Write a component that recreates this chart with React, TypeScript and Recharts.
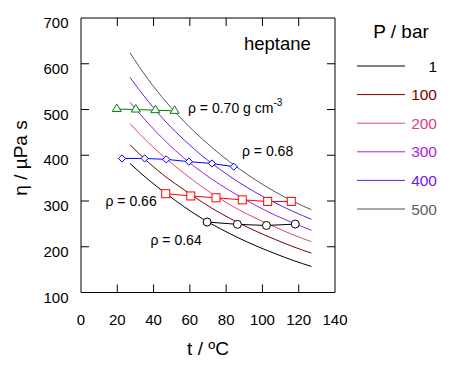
import React from 'react';
import { ComposedChart, Line, XAxis, YAxis } from 'recharts';

const FONT = '"Liberation Sans", Arial, Helvetica, sans-serif';

// Pressure isobars: temperature (°C) and viscosity (µPa s)
const temps = [27, 37, 47, 57, 67, 77, 87, 97, 107, 117, 127];
const eta1 = [382, 347, 316, 287, 261, 239, 219, 201, 185, 170, 157];
const eta100 = [423, 385, 352, 324, 297, 273, 252, 233, 216, 200, 186];
const eta200 = [469, 428, 392, 360, 330, 304, 281, 261, 243, 226, 211];
const eta300 = [516, 470, 429, 393, 362, 335, 311, 289, 269, 252, 236];
const eta400 = [570, 518, 472, 433, 398, 368, 341, 317, 296, 277, 260];
const eta500 = [624, 566, 516, 473, 435, 401, 371, 344, 320, 299, 281];

const pressureLabels = ['1', '100', '200', '300', '400', '500'];
const pressureKeys = ['p1', 'p100', 'p200', 'p300', 'p400', 'p500'];
const pressureSeries = [eta1, eta100, eta200, eta300, eta400, eta500];
const pressureColors = ['#000000', '#7a0000', '#e0457f', '#a020e0', '#6a1ee8', '#555555'];
const pressureLabelColors = ['#000000', '#800000', '#e0407f', '#a81ed8', '#7018e0', '#606060'];

// Iso-density series
const rho70T = [19.7, 30.2, 41.0, 51.6];
const rho70Eta = [501, 500, 498.5, 497];
const rho68T = [22.6, 35.1, 47.0, 59.5, 72.2, 84.2];
const rho68Eta = [393, 393, 391, 386, 382, 375];
const rho66T = [46.7, 60.5, 74.4, 88.9, 102.9, 115.9];
const rho66Eta = [316, 311, 307, 302.5, 299, 299];
const rho64T = [69.5, 86.2, 102.2, 118.1];
const rho64Eta = [254, 249, 246.5, 249.5];

const xTicks = [0, 20, 40, 60, 80, 100, 120, 140];
const yTicks = [100, 200, 300, 400, 500, 600, 700];

const pressureData = temps.map((t, i) => {
  const row: any = { t };
  pressureKeys.forEach((k, j) => {
    row[k] = pressureSeries[j][i];
  });
  return row;
});

const toRows = (ts: number[], es: number[]) => ts.map((t, i) => ({ t, eta: es[i] }));
const rho70Data = toRows(rho70T, rho70Eta);
const rho68Data = toRows(rho68T, rho68Eta);
const rho66Data = toRows(rho66T, rho66Eta);
const rho64Data = toRows(rho64T, rho64Eta);

const TriangleDot = (props: any) => {
  const { cx, cy, index } = props;
  if (cx == null || cy == null) return null;
  return (
    <polygon
      key={`tri-${index}`}
      points={`${cx},${cy - 5} ${cx - 4.5},${cy + 2.5} ${cx + 4.5},${cy + 2.5}`}
      fill="#fff"
      stroke="#008000"
      strokeWidth={1}
    />
  );
};
const DiamondDot = (props: any) => {
  const { cx, cy, index } = props;
  if (cx == null || cy == null) return null;
  return (
    <polygon
      key={`dia-${index}`}
      points={`${cx},${cy - 3.6} ${cx + 3.6},${cy} ${cx},${cy + 3.6} ${cx - 3.6},${cy}`}
      fill="#fff"
      stroke="#0000ff"
      strokeWidth={1}
    />
  );
};
const SquareDot = (props: any) => {
  const { cx, cy, index } = props;
  if (cx == null || cy == null) return null;
  return (
    <rect key={`sq-${index}`} x={cx - 4} y={cy - 4} width={8} height={8} fill="#fff" stroke="#ff0000" strokeWidth={1} />
  );
};
const CircleDot = (props: any) => {
  const { cx, cy, index } = props;
  if (cx == null || cy == null) return null;
  return <circle key={`ci-${index}`} cx={cx} cy={cy} r={4} fill="#fff" stroke="#000" strokeWidth={1} />;
};

const isInnerX = (v: number) => v !== xTicks[0] && v !== xTicks[xTicks.length - 1];
const isInnerY = (v: number) => v !== yTicks[0] && v !== yTicks[yTicks.length - 1];

const BottomTick = (props: any) => {
  const { x, y, payload } = props;
  const v = payload.value;
  return (
    <g>
      {isInnerX(v) && <line x1={x} y1={y} x2={x} y2={y - 8} stroke="#000" strokeWidth={1} />}
      <text x={x} y={y + 32} textAnchor="middle" fontSize={15} fontFamily={FONT} fill="#000">
        {v}
      </text>
    </g>
  );
};
const TopTick = (props: any) => {
  const { x, y, payload } = props;
  const v = payload.value;
  if (!isInnerX(v)) return <g />;
  return <line x1={x} y1={y} x2={x} y2={y + 8} stroke="#000" strokeWidth={1} />;
};
const LeftTick = (props: any) => {
  const { x, y, payload } = props;
  const v = payload.value;
  return (
    <g>
      {isInnerY(v) && <line x1={x} y1={y} x2={x + 8} y2={y} stroke="#000" strokeWidth={1} />}
      <text x={x - 12.5} y={y + 10} textAnchor="end" fontSize={15} fontFamily={FONT} fill="#000">
        {v}
      </text>
    </g>
  );
};
const RightTick = (props: any) => {
  const { x, y, payload } = props;
  const v = payload.value;
  if (!isInnerY(v)) return <g />;
  return <line x1={x} y1={y} x2={x - 8} y2={y} stroke="#000" strokeWidth={1} />;
};

const Overlay = () => (
  <g fontFamily={FONT}>
    {/* axis titles */}
    <text x={20} y={158} transform="rotate(-90, 20, 158)" textAnchor="middle" dominantBaseline="central" fontSize={19} fill="#000">
      η / µPa s
    </text>
    <text x={208} y={355} textAnchor="middle" fontSize={19} fill="#000">
      t / ºC
    </text>
    {/* annotations */}
    <text x={244} y={50} fontSize={18.5} fill="#000">heptane</text>
    <text x={188} y={113} fontSize={14} fill="#000">
      ρ = 0.70 g cm<tspan dy={-7} fontSize={10}>-3</tspan>
    </text>
    <text x={242} y={156} fontSize={14} fill="#000">ρ = 0.68</text>
    <text x={105.5} y={205.5} fontSize={14} fill="#000">ρ = 0.66</text>
    <text x={150.5} y={244.5} fontSize={14} fill="#000">ρ = 0.64</text>
    {/* legend */}
    <text x={401} y={38} textAnchor="middle" fontSize={19} fill="#000">P / bar</text>
    {pressureLabels.map((lab, i) => {
      const ly = 66 + i * 28.6;
      return (
        <g key={lab}>
          <line x1={357} y1={ly} x2={405} y2={ly} stroke={pressureColors[i]} strokeWidth={1} />
          <text x={437} y={ly + 5.5} textAnchor="end" fontSize={15.5} fill={pressureLabelColors[i]}>
            {lab}
          </text>
        </g>
      );
    })}
  </g>
);

export default function App() {
  return (
    <div style={{ position: 'absolute', left: 0, top: 0, width: 454, height: 368, background: '#fff' }}>
      <ComposedChart
        width={454}
        height={368}
        data={pressureData}
        margin={{ top: 8, right: 109, bottom: 35.5, left: 41 }}
      >
        <XAxis
          dataKey="t"
          type="number"
          domain={[0, 140]}
          ticks={xTicks}
          height={40}
          tickSize={0}
          tickMargin={0}
          tickLine={false}
          tick={<BottomTick />}
          axisLine={{ stroke: '#000', strokeWidth: 1 }}
          allowDataOverflow
          interval={0}
        />
        <XAxis
          xAxisId="top"
          orientation="top"
          dataKey="t"
          type="number"
          domain={[0, 140]}
          ticks={xTicks}
          height={10}
          tickSize={0}
          tickMargin={0}
          tickLine={false}
          tick={<TopTick />}
          axisLine={{ stroke: '#000', strokeWidth: 1 }}
          allowDataOverflow
          interval={0}
        />
        <YAxis
          type="number"
          domain={[100, 700]}
          ticks={yTicks}
          width={40}
          tickSize={0}
          tickMargin={0}
          tickLine={false}
          tick={<LeftTick />}
          axisLine={{ stroke: '#000', strokeWidth: 1 }}
          allowDataOverflow
          interval={0}
        />
        <YAxis
          yAxisId="right"
          orientation="right"
          type="number"
          domain={[100, 700]}
          ticks={yTicks}
          width={10}
          tickSize={0}
          tickMargin={0}
          tickLine={false}
          tick={<RightTick />}
          axisLine={{ stroke: '#000', strokeWidth: 1 }}
          allowDataOverflow
          interval={0}
        />
        {pressureKeys.map((k, i) => (
          <Line
            key={k}
            dataKey={k}
            type="monotone"
            stroke={pressureColors[i]}
            strokeWidth={1}
            dot={false}
            isAnimationActive={false}
          />
        ))}
        <Line data={rho70Data} dataKey="eta" stroke="#008000" strokeWidth={1} dot={<TriangleDot />} isAnimationActive={false} />
        <Line data={rho68Data} dataKey="eta" stroke="#0000ff" strokeWidth={1} dot={<DiamondDot />} isAnimationActive={false} />
        <Line data={rho66Data} dataKey="eta" stroke="#ff0000" strokeWidth={1} dot={<SquareDot />} isAnimationActive={false} />
        <Line data={rho64Data} dataKey="eta" stroke="#000000" strokeWidth={1} dot={<CircleDot />} isAnimationActive={false} />
        <Overlay />
      </ComposedChart>
    </div>
  );
}
